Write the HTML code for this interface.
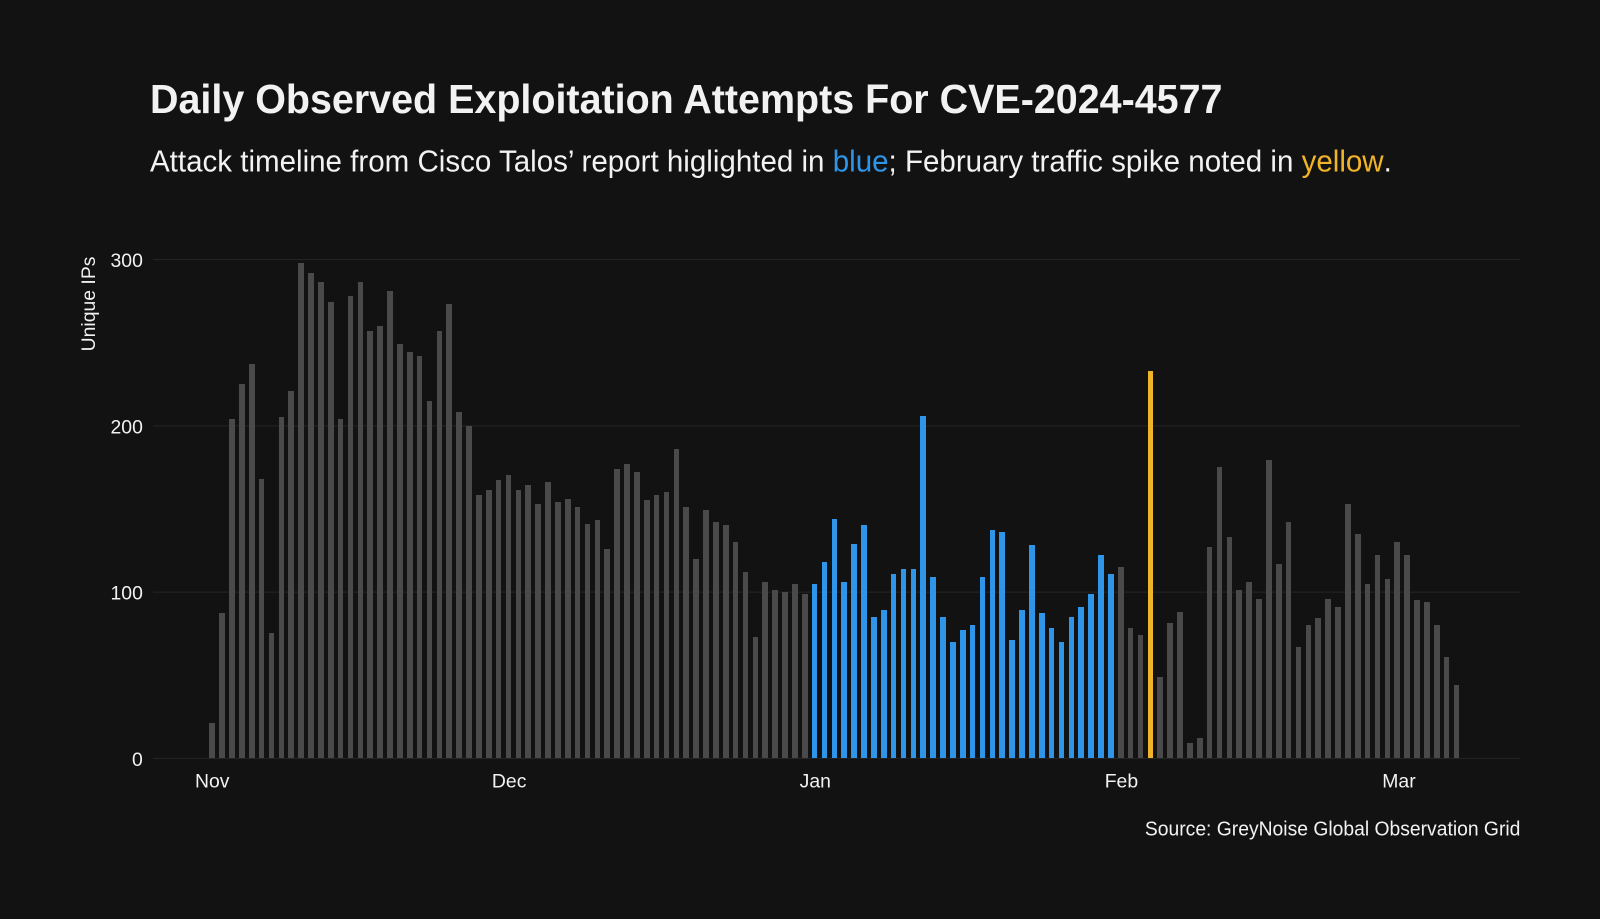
<!DOCTYPE html>
<html><head><meta charset="utf-8"><style>
html,body{margin:0;padding:0;background:#121212;}
body{position:relative;width:1600px;height:919px;overflow:hidden;}
svg{display:block;position:absolute;left:0;top:0;}
text{font-family:"Liberation Sans Narrow","Liberation Sans",sans-serif;fill:#f2f2f2;}
#bars{position:absolute;left:209.4px;top:0;height:758.2px;display:flex;align-items:flex-end;}
#bars div{width:5.71px;margin-right:4.18px;flex:none;height:calc(var(--v)*1.6633px);background:#4a4a4a;}
#bars div.b{background:#2e95e8;}
#bars div.y{background:#f0b429;}
</style></head><body>
<svg width="1600" height="919" viewBox="0 0 1568 901" preserveAspectRatio="none" xmlns="http://www.w3.org/2000/svg">
<rect width="1568" height="901" fill="#121212"/>
<text x="147" y="111" font-size="40" font-weight="bold" textLength="1051" lengthAdjust="spacingAndGlyphs">Daily Observed Exploitation Attempts For CVE-2024-4577</text>
<text x="147" y="168" font-size="30" textLength="1217" lengthAdjust="spacingAndGlyphs">Attack timeline from Cisco Talos’ report higlighted in <tspan fill="#2e95e8">blue</tspan>; February traffic spike noted in <tspan fill="#f0b429">yellow</tspan>.</text>
<g stroke="#262626" stroke-width="1">
<line x1="150" x2="1490" y1="254.5" y2="254.5"/>
<line x1="150" x2="1490" y1="417.5" y2="417.5"/>
<line x1="150" x2="1490" y1="580.5" y2="580.5"/>
<line x1="150" x2="1490" y1="743.5" y2="743.5"/>
</g>
<g font-size="19" text-anchor="end">
<text x="140" y="262">300</text><text x="140" y="425">200</text><text x="140" y="588">100</text><text x="140" y="751">0</text>
</g>
<text transform="translate(93,298) rotate(-90)" font-size="19" text-anchor="middle">Unique IPs</text>
<g font-size="19" text-anchor="middle">
<text x="208" y="772">Nov</text><text x="499" y="772">Dec</text><text x="799" y="772">Jan</text><text x="1099" y="772">Feb</text><text x="1371" y="772">Mar</text>
</g>
<text x="1490" y="819" font-size="20" text-anchor="end" textLength="368" lengthAdjust="spacingAndGlyphs">Source: GreyNoise Global Observation Grid</text>
</svg>
<div id="bars">
<div style="--v:21"></div><div style="--v:87"></div><div style="--v:204"></div><div style="--v:225"></div><div style="--v:237"></div><div style="--v:168"></div><div style="--v:75"></div><div style="--v:205"></div><div style="--v:221"></div><div style="--v:298"></div>
<div style="--v:292"></div><div style="--v:286"></div><div style="--v:274"></div><div style="--v:204"></div><div style="--v:278"></div><div style="--v:286"></div><div style="--v:257"></div><div style="--v:260"></div><div style="--v:281"></div><div style="--v:249"></div>
<div style="--v:244"></div><div style="--v:242"></div><div style="--v:215"></div><div style="--v:257"></div><div style="--v:273"></div><div style="--v:208"></div><div style="--v:200"></div><div style="--v:158"></div><div style="--v:161"></div><div style="--v:167"></div>
<div style="--v:170"></div><div style="--v:161"></div><div style="--v:164"></div><div style="--v:153"></div><div style="--v:166"></div><div style="--v:154"></div><div style="--v:156"></div><div style="--v:151"></div><div style="--v:141"></div><div style="--v:143"></div>
<div style="--v:126"></div><div style="--v:174"></div><div style="--v:177"></div><div style="--v:172"></div><div style="--v:155"></div><div style="--v:158"></div><div style="--v:160"></div><div style="--v:186"></div><div style="--v:151"></div><div style="--v:120"></div>
<div style="--v:149"></div><div style="--v:142"></div><div style="--v:140"></div><div style="--v:130"></div><div style="--v:112"></div><div style="--v:73"></div><div style="--v:106"></div><div style="--v:101"></div><div style="--v:100"></div><div style="--v:105"></div><div style="--v:99"></div>
<div class="b" style="--v:105"></div><div class="b" style="--v:118"></div><div class="b" style="--v:144"></div><div class="b" style="--v:106"></div><div class="b" style="--v:129"></div><div class="b" style="--v:140"></div><div class="b" style="--v:85"></div><div class="b" style="--v:89"></div><div class="b" style="--v:111"></div><div class="b" style="--v:114"></div>
<div class="b" style="--v:114"></div><div class="b" style="--v:206"></div><div class="b" style="--v:109"></div><div class="b" style="--v:85"></div><div class="b" style="--v:70"></div><div class="b" style="--v:77"></div><div class="b" style="--v:80"></div><div class="b" style="--v:109"></div><div class="b" style="--v:137"></div><div class="b" style="--v:136"></div>
<div class="b" style="--v:71"></div><div class="b" style="--v:89"></div><div class="b" style="--v:128"></div><div class="b" style="--v:87"></div><div class="b" style="--v:78"></div><div class="b" style="--v:70"></div><div class="b" style="--v:85"></div><div class="b" style="--v:91"></div><div class="b" style="--v:99"></div><div class="b" style="--v:122"></div><div class="b" style="--v:111"></div>
<div style="--v:115"></div><div style="--v:78"></div><div style="--v:74"></div><div class="y" style="--v:233"></div><div style="--v:49"></div><div style="--v:81"></div><div style="--v:88"></div><div style="--v:9"></div><div style="--v:12"></div><div style="--v:127"></div>
<div style="--v:175"></div><div style="--v:133"></div><div style="--v:101"></div><div style="--v:106"></div><div style="--v:96"></div><div style="--v:179"></div><div style="--v:117"></div><div style="--v:142"></div><div style="--v:67"></div><div style="--v:80"></div>
<div style="--v:84"></div><div style="--v:96"></div><div style="--v:91"></div><div style="--v:153"></div><div style="--v:135"></div><div style="--v:105"></div><div style="--v:122"></div><div style="--v:108"></div>
<div style="--v:130"></div><div style="--v:122"></div><div style="--v:95"></div><div style="--v:94"></div><div style="--v:80"></div><div style="--v:61"></div><div style="--v:44"></div>
</div>
</body></html>
